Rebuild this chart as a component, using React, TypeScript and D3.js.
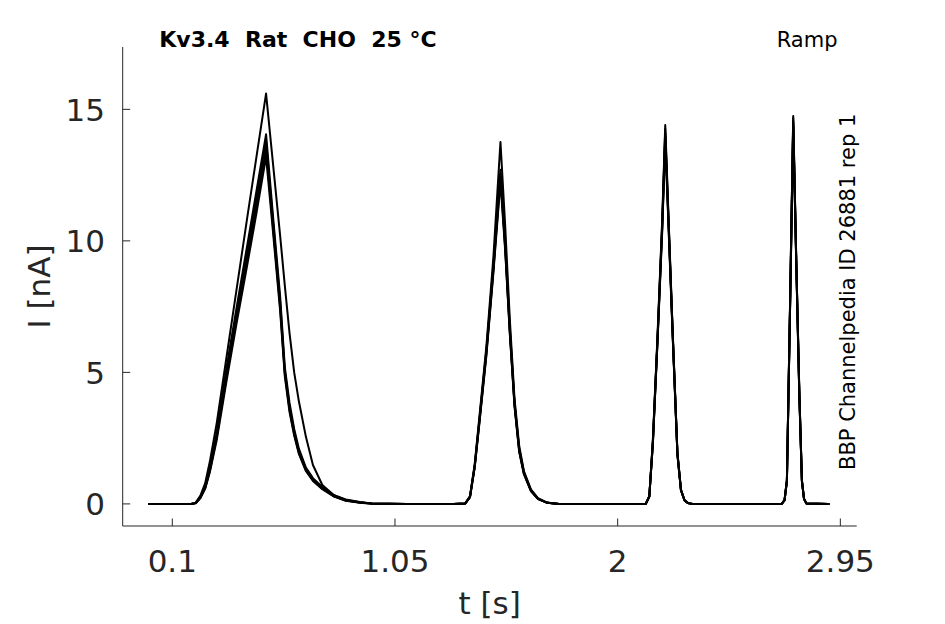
import React from "react";
import * as d3 from "d3";

// time samples [s]
const time = [
  0, 0.1, 0.18,
  0.2, 0.22, 0.24, 0.26, 0.29, 0.33, 0.375, 0.42, 0.46, 0.5, 0.53, 0.56, 0.58, 0.6, 0.62, 0.64, 0.67, 0.7, 0.74, 0.79, 0.84, 0.9, 0.95,
  1.1, 1.3,
  1.35, 1.37, 1.39, 1.41, 1.44, 1.47, 1.5, 1.52, 1.54, 1.56, 1.58, 1.6, 1.63, 1.66, 1.7, 1.75,
  1.9, 2.1,
  2.12, 2.135, 2.15, 2.17, 2.19, 2.203, 2.215, 2.235, 2.255, 2.27, 2.285, 2.3, 2.32,
  2.5, 2.7,
  2.712, 2.722, 2.735, 2.749, 2.762, 2.775, 2.786, 2.795, 2.805,
  2.9,
];

// current traces [nA]
const traceA = [
  0, 0, 0,
  0.05, 0.32, 0.78, 1.6, 3.1, 5.5, 8.2, 10.9, 13.25, 15.6, 12.9, 10.2, 8.3, 6.5, 5.0, 3.9, 2.55, 1.48, 0.72, 0.33, 0.17, 0.07, 0.02,
  0, 0,
  0.02, 0.3, 1.5, 3.3, 6.0, 9.4, 13.76, 10.6, 7.0, 4.0, 2.2, 1.25, 0.55, 0.22, 0.05, 0,
  0, 0,
  0, 0.3, 2.4, 6.4, 10.8, 14.4, 11.4, 6.5, 1.95, 0.55, 0.15, 0.03, 0,
  0, 0,
  0.15, 0.9, 7.4, 14.75, 9.3, 4.3, 0.9, 0.2, 0.02,
  0,
];
const traceB = [
  0, 0, 0,
  0.04, 0.28, 0.66, 1.38, 2.75, 5.1, 7.5, 9.85, 11.95, 14.05, 10.9, 7.9, 5.2, 3.85, 2.85, 2.1, 1.38, 0.98, 0.64, 0.33, 0.15, 0.06, 0.02,
  0, 0,
  0.02, 0.28, 1.45, 3.2, 5.85, 9.1, 12.7, 10.0, 6.7, 3.85, 2.1, 1.2, 0.52, 0.2, 0.04, 0,
  0, 0,
  0, 0.29, 2.35, 6.3, 10.65, 14.25, 11.3, 6.45, 1.92, 0.54, 0.15, 0.03, 0,
  0, 0,
  0.15, 0.9, 7.3, 14.65, 9.25, 4.25, 0.9, 0.2, 0.02,
  0,
];
const traceC = [
  0, 0, 0,
  0.03, 0.25, 0.62, 1.3, 2.62, 4.9, 7.3, 9.6, 11.7, 13.8, 10.7, 7.7, 5.05, 3.7, 2.75, 2.0, 1.32, 0.93, 0.6, 0.3, 0.14, 0.05, 0.02,
  0, 0,
  0.02, 0.27, 1.42, 3.15, 5.8, 9.0, 12.55, 9.85, 6.6, 3.8, 2.05, 1.17, 0.5, 0.19, 0.04, 0,
  0, 0,
  0, 0.28, 2.3, 6.25, 10.55, 14.1, 11.2, 6.4, 1.9, 0.53, 0.14, 0.03, 0,
  0, 0,
  0.14, 0.88, 7.25, 14.55, 9.2, 4.2, 0.88, 0.19, 0.02,
  0,
];
const traceD = [
  0, 0, 0,
  0.03, 0.24, 0.6, 1.25, 2.55, 4.75, 7.1, 9.35, 11.4, 13.5, 10.5, 7.5, 4.95, 3.6, 2.65, 1.95, 1.28, 0.9, 0.58, 0.29, 0.13, 0.05, 0.02,
  0, 0,
  0.02, 0.26, 1.4, 3.1, 5.7, 8.9, 12.4, 9.75, 6.5, 3.75, 2.0, 1.15, 0.5, 0.19, 0.04, 0,
  0, 0,
  0, 0.28, 2.28, 6.2, 10.45, 13.95, 11.1, 6.35, 1.88, 0.52, 0.14, 0.03, 0,
  0, 0,
  0.14, 0.87, 7.2, 14.45, 9.15, 4.15, 0.87, 0.19, 0.02,
  0,
];
const traceE = [
  0, 0, 0,
  0.02, 0.22, 0.57, 1.2, 2.45, 4.6, 6.9, 9.1, 11.1, 13.2, 10.3, 7.35, 4.85, 3.5, 2.6, 1.9, 1.25, 0.87, 0.56, 0.28, 0.12, 0.04, 0.01,
  0, 0,
  0.02, 0.25, 1.38, 3.05, 5.65, 8.8, 12.25, 9.65, 6.45, 3.7, 1.98, 1.13, 0.49, 0.18, 0.04, 0,
  0, 0,
  0, 0.27, 2.25, 6.15, 10.35, 13.8, 11.0, 6.3, 1.86, 0.51, 0.13, 0.03, 0,
  0, 0,
  0.13, 0.86, 7.15, 14.35, 9.1, 4.1, 0.86, 0.18, 0.02,
  0,
];
const traces = [traceE, traceD, traceC, traceB, traceA];

const xTicks = [0.1, 1.05, 2, 2.95];
const xTickLabels = ["0.1", "1.05", "2", "2.95"];
const yTicks = [0, 5, 10, 15];
const yTickLabels = ["0", "5", "10", "15"];

const titleText = "Kv3.4  Rat  CHO  25 °C";
const protocolText = "Ramp";
const sideText = "BBP Channelpedia ID 26881 rep 1";
const xLabel = "t [s]";
const yLabel = "I [nA]";

const W = 945;
const H = 624;
const left = 122.7;
const right = 856.7;
const top = 47;
const bottom = 526;

export default function App() {
  const x = d3.scaleLinear().domain([-0.1116, 3.0198]).range([left, right]);
  const y = d3.scaleLinear().domain([-0.84, 17.37]).range([bottom, top]);
  const line = d3
    .line<number>()
    .x((_, i) => x(time[i]))
    .y((d) => y(d))
    .curve(d3.curveLinear);

  const font = "'DejaVu Sans', sans-serif";
  const axisColor = "#262626";
  const tickLen = 7.5;

  return (
    <svg
      width={W}
      height={H}
      style={{ position: "absolute", left: 0, top: 0, background: "#fff" }}
      fontFamily={font}
    >
      <rect x={0} y={0} width={W} height={H} fill="#fff" />
      {/* traces */}
      {traces.map((tr, k) => (
        <path
          key={k}
          d={line(tr) || ""}
          fill="none"
          stroke="#000"
          strokeWidth={2}
          strokeLinejoin="round"
          strokeLinecap="round"
        />
      ))}
      {/* axes */}
      <line x1={left} x2={left} y1={top} y2={bottom} stroke={axisColor} strokeWidth={1} />
      <line x1={left} x2={right} y1={bottom} y2={bottom} stroke={axisColor} strokeWidth={1} />
      {xTicks.map((t, i) => (
        <g key={"xt" + i}>
          <line x1={x(t)} x2={x(t)} y1={bottom} y2={bottom - tickLen} stroke={axisColor} strokeWidth={1} />
          <text x={x(t)} y={571.5} textAnchor="middle" fontSize={31} fill={axisColor}>
            {xTickLabels[i]}
          </text>
        </g>
      ))}
      {yTicks.map((v, i) => (
        <g key={"yt" + i}>
          <line x1={left} x2={left + tickLen} y1={y(v)} y2={y(v)} stroke={axisColor} strokeWidth={1} />
          <text x={105} y={y(v)} dy="0.36em" textAnchor="end" fontSize={31} fill={axisColor}>
            {yTickLabels[i]}
          </text>
        </g>
      ))}
      <text x={(left + right) / 2} y={614} textAnchor="middle" fontSize={31} fill={axisColor}>
        {xLabel}
      </text>
      <text
        transform={`translate(50, ${(top + bottom) / 2}) rotate(-90)`}
        textAnchor="middle"
        fontSize={31}
        fill={axisColor}
        style={{ whiteSpace: "pre" }}
      >
        {yLabel}
      </text>
      {/* annotations */}
      <text x={159.3} y={47} fontSize={22} fontWeight="bold" fill="#000" style={{ whiteSpace: "pre" }}>
        {titleText}
      </text>
      <text x={837.5} y={47} textAnchor="end" fontSize={21} fill="#000">
        {protocolText}
      </text>
      <text
        transform={`translate(855, 470) rotate(-90)`}
        fontSize={21}
        fill="#000"
        style={{ whiteSpace: "pre" }}
      >
        {sideText}
      </text>
    </svg>
  );
}
